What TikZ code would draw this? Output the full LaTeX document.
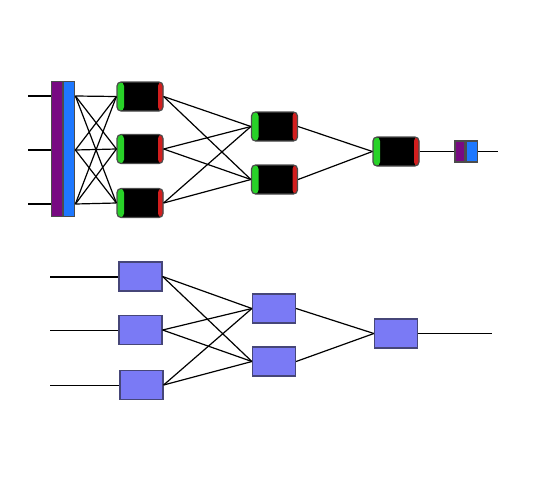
\documentclass[tikz,border=0pt]{standalone}
\usetikzlibrary{positioning}
\definecolor{barpurple}{RGB}{120,10,130}
\definecolor{barblue}{RGB}{30,120,255}
\definecolor{capgreen}{RGB}{40,210,40}
\definecolor{capred}{RGB}{210,30,30}
\definecolor{boxblue}{RGB}{122,122,245}
\definecolor{boxedge}{RGB}{70,70,120}
\tikzset{
  cell/.style={draw=black!70, fill=black, rounded corners=4pt,
    minimum width=46pt, minimum height=29pt, inner sep=0pt,
    path picture={
      \fill[capgreen] (path picture bounding box.south west) rectangle ([xshift=7pt]path picture bounding box.north west);
      \fill[capred] ([xshift=-5pt]path picture bounding box.south east) rectangle (path picture bounding box.north east);
    }},
  unit/.style={draw=boxedge, fill=boxblue, minimum width=43pt, minimum height=29pt, inner sep=0pt},
  bar/.style={draw=black!70, inner sep=0pt},
  wire/.style={line width=1.2pt}
}
\begin{document}
\begin{tikzpicture}
            [x=1pt, y=-1pt, wire]
            \useasboundingbox (0,0) rectangle (533,480);
            % top network
            \coordinate (x1) at (28,96);
            \coordinate (x2) at (28,150);
            \coordinate (x3) at (28,204);
            \node [bar, fill=barpurple, minimum width=11pt, minimum height=135pt, anchor=north west] (barp) at (51,81) {};
            \node [bar, fill=barblue, minimum width=11pt, minimum height=135pt, right=0pt of barp] (barb) {};
            \node [cell] (a1) at (140,96.5) {};
            \node [cell] (a2) at (140,149) {};
            \node [cell] (a3) at (140,203) {};
            \node [cell] (h1) at (274.5,126.5) {};
            \node [cell] (h2) at (274.5,179.5) {};
            \node [cell] (o) at (396,151.5) {};
            \node [bar, fill=barpurple, minimum width=10pt, minimum height=21pt] (sp) at (460,151.5) {};
            \node [bar, fill=barblue, minimum width=11pt, minimum height=21pt, right=0pt of sp] (sb) {};
            \coordinate (y) at (498,151.5);
            \foreach \i in {1,2,3} {
                \draw (x\i) -- (barp.west |- x\i);
                \foreach \j in {1,2,3}
                    \draw (barb.east |- x\i) -- (a\j.west);
                \foreach \j in {1,2}
                    \draw (a\i.east) -- (h\j.west);
            }
            \draw (h1.east) -- (o.west);
            \draw (h2.east) -- (o.west);
            \draw (o.east) -- (sp.west);
            \draw (sb.east) -- (y);
            % bottom network
            \coordinate (p1) at (50,277);
            \coordinate (p2) at (50,330.5);
            \coordinate (p3) at (50,385.5);
            \node [unit] (u1) at (140.5,276.5) {};
            \node [unit] (u2) at (140.5,330) {};
            \node [unit] (u3) at (141.5,385) {};
            \node [unit] (v1) at (274,308.5) {};
            \node [unit] (v2) at (274,361.5) {};
            \node [unit] (w) at (396,333.5) {};
            \coordinate (q) at (492,333.5);
            \foreach \i in {1,2,3} {
                \draw (p\i) -- (u\i.west |- p\i);
                \foreach \j in {1,2}
                    \draw (u\i.east) -- (v\j.west);
            }
            \draw (v1.east) -- (w.west);
            \draw (v2.east) -- (w.west);
            \draw (w.east) -- (q);
        \end{tikzpicture}
\end{document}
